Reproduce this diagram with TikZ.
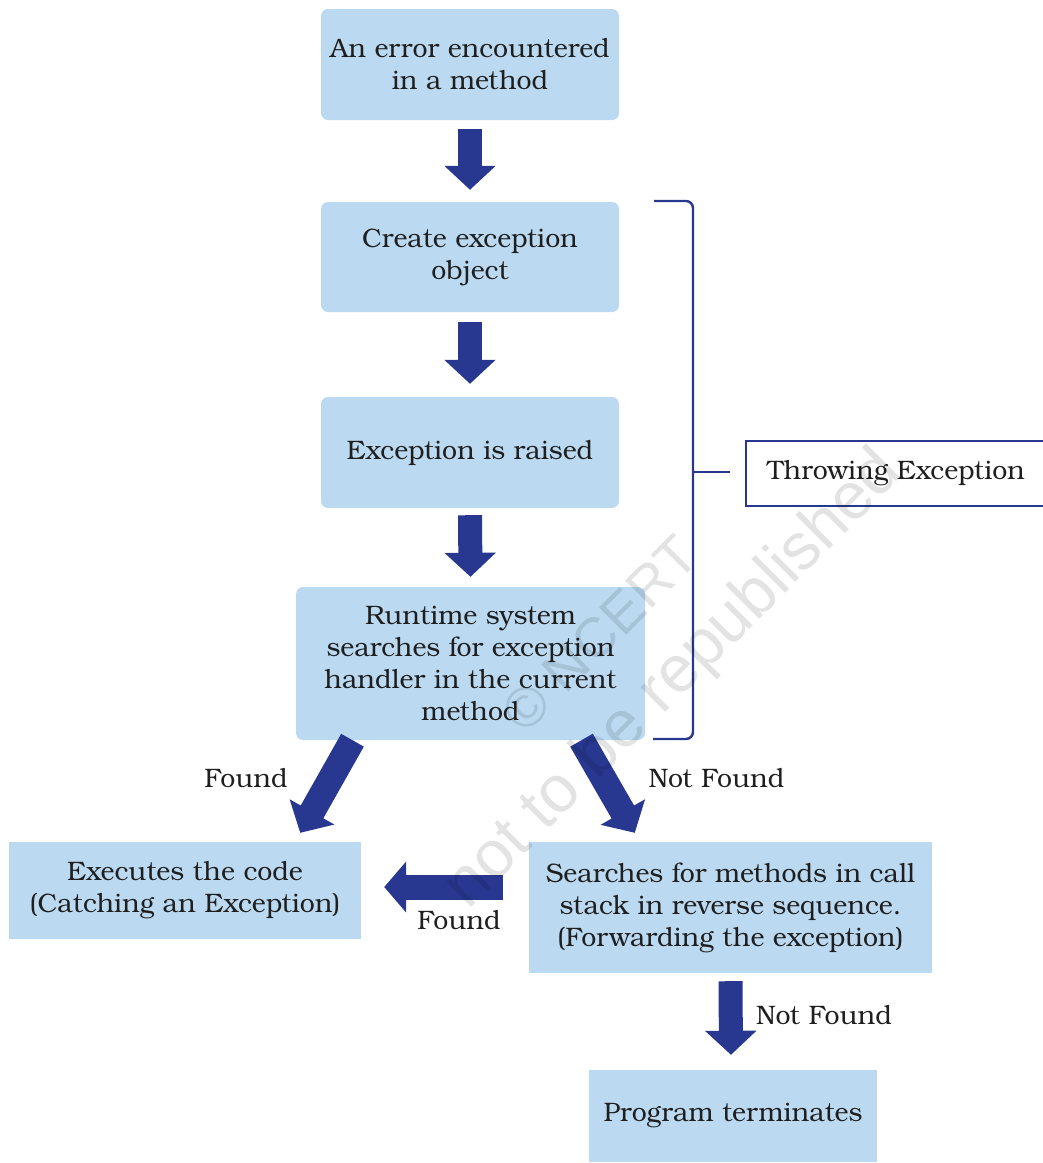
\documentclass[tikz,border=0pt]{standalone}
\usepackage{fontspec}
\setmainfont{TeX Gyre Bonum}
\newfontfamily\wmfont{Liberation Sans}
\usetikzlibrary{arrows.meta,calc}
\definecolor{boxblue}{HTML}{BBDAF2}
\definecolor{arrowblue}{HTML}{283891}
\begin{document}
\begin{tikzpicture}[x=1pt,y=-1pt,
  txt/.style={font=\fontsize{26.7}{32}\selectfont, text=black!88},
  box/.style={txt, fill=boxblue, draw=none, inner sep=0pt, align=center},
  rbox/.style={box, rounded corners=7pt},
  bigarrow/.style={draw=arrowblue, line width=24pt, -{Triangle[length=24pt,width=50pt]}},
  brace/.style={draw=arrowblue, line width=2.4pt},
  lbl/.style={txt, inner sep=0pt},
  watermark/.style={text=black, opacity=0.11, rotate=45, inner sep=0pt}]
\useasboundingbox (0,0) rectangle (1043,1163);
% boxes
\node[rbox, minimum width=298pt, minimum height=111pt] (b1) at (470,64.5) {An error encountered\\in a method};
\node[rbox, minimum width=298pt, minimum height=110pt] (b2) at (470,257) {Create exception\\object};
\node[rbox, minimum width=298pt, minimum height=111pt] (b3) at (470,452.5) {Exception is raised};
\node[rbox, minimum width=349pt, minimum height=153pt] (b4) at (470.5,663.5) {Runtime system\\searches for exception\\handler in the current\\method};
\node[box, minimum width=352pt, minimum height=97pt] (b5) at (185,890.5) {Executes the code\\(Catching an Exception)};
\node[box, minimum width=403pt, minimum height=131pt] (b6) at (730.5,907.5) {Searches for methods in call\\stack in reverse sequence.\\(Forwarding the exception)};
\node[box, minimum width=288pt, minimum height=92pt] (b7) at (733,1116) {Program terminates};
\node[txt, draw=arrowblue, line width=2.4pt, minimum width=300pt, minimum height=65pt, inner sep=0pt] (thr) at (896,473.5) {Throwing Exception};
% vertical arrows
\draw[bigarrow] ([yshift=-9pt]b1.south) -- ([yshift=12pt]b2.north);
\draw[bigarrow] ([yshift=-10pt]b2.south) -- ([yshift=13pt]b3.north);
\draw[bigarrow] ([yshift=-7pt]b3.south) -- ([yshift=10pt]b4.north);
% diagonal arrows
\draw[bigarrow, line width=26pt] ([xshift=-118pt]b4.south) -- ([xshift=-61pt,yshift=9pt]b5.north east);
\draw[bigarrow, line width=26pt] ([xshift=111pt]b4.south) -- ([xshift=106pt,yshift=9pt]b6.north west);
% horizontal arrow
\draw[bigarrow, line width=25pt, -{Triangle[length=22pt,width=50pt]}] ([xshift=-26pt,yshift=20.5pt]b6.west) -- ([xshift=23pt,yshift=3.5pt]b5.east);
% bottom arrow
\draw[bigarrow] ([yshift=-8pt]b6.south) -- ([xshift=-2pt,yshift=15pt]b7.north);
% labels
\node[lbl] (l1) at (246,778) {Found};
\node[lbl] (l2) at (716.5,778) {Not Found};
\node[lbl] (l3) at (459,920) {Found};
\node[lbl] (l4) at (824,1015) {Not Found};
% bracket
\coordinate (brtop) at (654,201);
\coordinate (brbot) at (653,739);
\coordinate (brmid) at (693,472);
\coordinate (brtick) at (730,472);
\draw[brace, rounded corners=7pt] (brtop) -- (693,201) -- (693,739) -- (brbot);
\draw[brace] (brmid) -- (brtick);
% watermark
\node[watermark, font=\wmfont\fontsize{56}{60}\selectfont] (wm1) at (600,634) {© NCERT};
\node[watermark, font=\wmfont\fontsize{66}{70}\selectfont] (wm2) at (674,680) {not to be republished};
\end{tikzpicture}
\end{document}
